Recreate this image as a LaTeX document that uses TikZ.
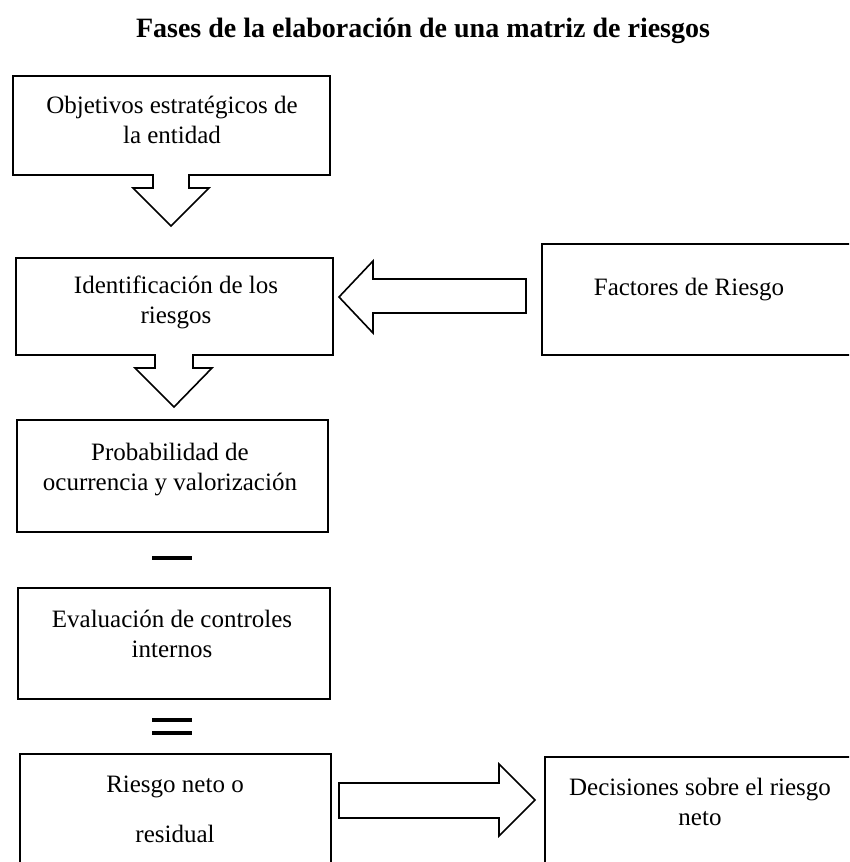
\documentclass[tikz,border=0pt]{standalone}
\usepackage{fontspec}
\setmainfont{Liberation Serif}
\begin{document}
\begin{tikzpicture}[x=1pt,y=-1pt,
  box/.style={draw, line width=1.6pt, inner sep=0pt, anchor=north west},
  txt/.style={inner sep=0pt, align=center, anchor=north, font=\fontsize{25}{29.5}\selectfont},
  blockarrow/.style={draw, line width=1.6pt, fill=white, line join=miter},
  bar/.style={fill=black, draw=none}]
\useasboundingbox (0,0) rectangle (849,862);
\clip (0,0) rectangle (849,862);

% title
\node[inner sep=0pt, anchor=base, font=\fontsize{28}{33}\selectfont\bfseries] (title) at (423,37)
  {Fases de la elaboración de una matriz de riesgos};

% boxes
\node[box, minimum width=317pt, minimum height=99pt] (b1) at (12,75) {};
\node[txt] (t1) at (172,96) {Objetivos estratégicos de\\la entidad};

\node[box, minimum width=317pt, minimum height=97pt] (b2) at (15,257) {};
\node[txt] (t2) at (176,276) {Identificación de los\\riesgos};

\node[box, minimum width=311pt, minimum height=112pt] (b3) at (16,419) {};
\node[txt] (t3) at (170,443) {Probabilidad de\\ocurrencia y valorización};

\node[box, minimum width=312pt, minimum height=111pt] (b4) at (17,587) {};
\node[txt] (t4) at (172,610) {Evaluación de controles\\internos};

\node[box, minimum width=311pt, minimum height=167pt] (b5) at (19,753) {};
\node[txt] (t5) at (175,776) {Riesgo neto o\\[20.5pt]residual};

\node[box, minimum width=359pt, minimum height=111pt] (b6) at (541,243) {};
\node[txt] (t6) at (689,278) {Factores de Riesgo};

\node[box, minimum width=356pt, minimum height=164pt] (b7) at (544,756) {};
\node[txt] (t7) at (700,778) {Decisiones sobre el riesgo\\neto};

% block arrows
\draw[blockarrow] (153,174) -- (153,188) -- (133,188) -- (171,226) -- (209,188) -- (189,188) -- (189,174);
\draw[blockarrow] (155,354) -- (155,368) -- (135,368) -- (174,407) -- (212,368) -- (193,368) -- (193,354);
\draw[blockarrow] (526,279) -- (373,279) -- (373,261) -- (339,297) -- (373,333) -- (373,313) -- (526,313) -- cycle;
\draw[blockarrow] (339,783) -- (499,783) -- (499,764) -- (535,800) -- (499,836) -- (499,818) -- (339,818) -- cycle;

% operators
\fill[bar] (152,556) rectangle (192,560);
\fill[bar] (152,718) rectangle (192,722);
\fill[bar] (152,731) rectangle (192,735);
\end{tikzpicture}
\end{document}
